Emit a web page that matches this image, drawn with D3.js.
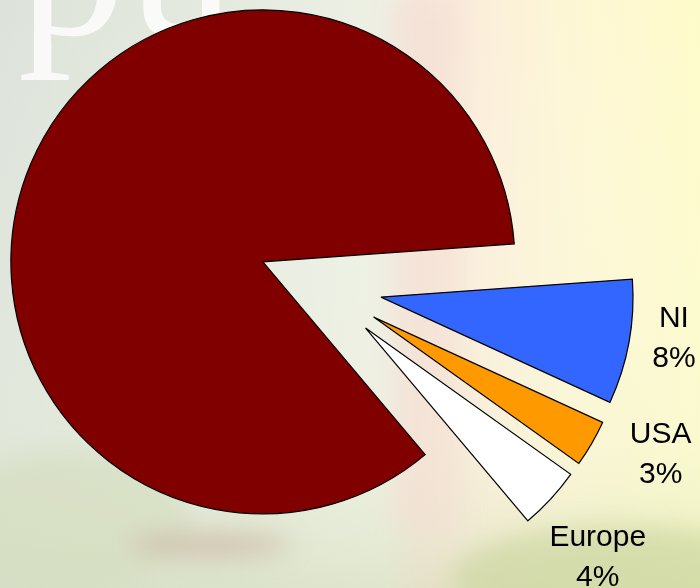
<!DOCTYPE html>
<html lang="en">
    <head>
        <meta charset="utf-8">
        <title>Share by region</title>
        <script type="text/javascript" src="https://d3js.org/d3.v7.min.js"></script>
        <style type="text/css">
            body{margin:0; padding:0; overflow:hidden;}
            #pie{width:700px; height:588px;}
        </style>
    </head>
    <body>
        <div id="pie"></div>
        <script type="text/javascript">

        // chart data
        var categories = ["GB", "NI", "USA", "Europe"]
        var shares = [85, 8, 3, 4]
        var pctLabels = ["85%", "8%", "3%", "4%"]
        var showLabel = [false, true, true, true]
        var colors = ["#800000", "#3366FF", "#FF9900", "#FFFFFF"]

        var w = 700
        var h = 588
        var cx = 320, cy = 286
        var radius = 252
        var explode = 62
        var firstAngle = 139.9 * Math.PI / 180
        // label nudges from the outer middle of each slice
        var labelShift = {"NI": [45, -15], "USA": [69, 0], "Europe": [47, 47]}

        var svg = d3.select("#pie")
                    .append("svg")
                    .attr("width", w)
                    .attr("height", h)

        // faded photo background
        var defs = svg.append("defs")
        var bg = defs.append("linearGradient").attr("id", "bgH")
                     .attr("x1", "0").attr("x2", "1").attr("y1", "0").attr("y2", "0")
        bg.append("stop").attr("offset", "0").attr("stop-color", "#dde3da")
        bg.append("stop").attr("offset", "0.35").attr("stop-color", "#e6ebe0")
        bg.append("stop").attr("offset", "0.55").attr("stop-color", "#eef0e4")
        bg.append("stop").attr("offset", "0.6").attr("stop-color", "#f7e6dc")
        bg.append("stop").attr("offset", "0.68").attr("stop-color", "#fbeedb")
        bg.append("stop").attr("offset", "0.8").attr("stop-color", "#fdf6d6")
        bg.append("stop").attr("offset", "1").attr("stop-color", "#fefbca")

        var bgV = defs.append("linearGradient").attr("id", "bgV")
                      .attr("x1", "0").attr("x2", "0").attr("y1", "0").attr("y2", "1")
        bgV.append("stop").attr("offset", "0").attr("stop-color", "#ffffff").attr("stop-opacity", 0)
        bgV.append("stop").attr("offset", "0.75").attr("stop-color", "#eef4dc").attr("stop-opacity", 0.25)
        bgV.append("stop").attr("offset", "1").attr("stop-color", "#cfdab0").attr("stop-opacity", 0.45)

        defs.append("filter").attr("id", "blur")
            .append("feGaussianBlur").attr("stdDeviation", 12)

        svg.append("rect").attr("width", w).attr("height", h).attr("fill", "url(#bgH)")
        svg.append("rect").attr("width", w).attr("height", h).attr("fill", "url(#bgV)")

        var blobs = svg.append("g").attr("filter", "url(#blur)")
        blobs.append("ellipse").attr("cx", 70).attr("cy", 520).attr("rx", 120).attr("ry", 70)
             .attr("fill", "#d3dcbc").attr("opacity", 0.6)
        blobs.append("ellipse").attr("cx", 620).attr("cy", 580).attr("rx", 170).attr("ry", 55)
             .attr("fill", "#c7d29a").attr("opacity", 0.6)
        blobs.append("ellipse").attr("cx", 210).attr("cy", 545).attr("rx", 80).attr("ry", 12)
             .attr("fill", "#c4a090").attr("opacity", 0.5)
        blobs.append("rect").attr("x", 390).attr("y", 0).attr("width", 70).attr("height", 530)
             .attr("fill", "#f3ddd2").attr("opacity", 0.5)

        var deco = svg.append("text")
           .attr("y", 34)
           .attr("font-family", "'Liberation Serif', 'DejaVu Serif', serif")
           .attr("font-size", "215px")
           .attr("fill", "#ffffff")
           .attr("opacity", 0.8)
        deco.append("tspan").attr("x", 18).text("p")
        deco.append("tspan").attr("x", 128).text("u")

        // pie
        var pie = d3.pie()
                    .sort(null)
                    .value(function(d){ return d })
                    .startAngle(firstAngle)
                    .endAngle(firstAngle + 2 * Math.PI)

        var arcs = pie(shares)

        var arc = d3.arc().innerRadius(0).outerRadius(radius)
        var rimArc = d3.arc().innerRadius(radius).outerRadius(radius)

        function offset(d){
            var m = (d.startAngle + d.endAngle) / 2
            return [Math.sin(m) * explode, -Math.cos(m) * explode]
        }

        var slices = svg.append("g")
                        .attr("transform", "translate(" + cx + "," + cy + ")")

        slices.selectAll("path")
              .data(arcs)
              .enter()
              .append("path")
              .attr("d", arc)
              .attr("transform", function(d){
                  var o = offset(d)
                  return "translate(" + o[0] + "," + o[1] + ")"
              })
              .attr("fill", function(d, i){ return colors[i] })
              .attr("stroke", "#000")
              .attr("stroke-width", 1.2)
              .attr("stroke-linejoin", "miter")

        var labels = slices.selectAll("text")
              .data(arcs.filter(function(d, i){ return showLabel[i] }))
              .enter()
              .append("text")
              .attr("font-family", "'Liberation Sans', Arial, sans-serif")
              .attr("font-size", "30px")
              .attr("fill", "#000")
              .attr("text-anchor", "middle")
              .attr("transform", function(d){
                  var o = offset(d)
                  var c = rimArc.centroid(d)
                  var s = labelShift[categories[d.index]]
                  return "translate(" + (c[0] + o[0] + s[0]) + "," + (c[1] + o[1] + s[1]) + ")"
              })

        labels.append("tspan")
              .attr("x", 0)
              .attr("y", 0)
              .text(function(d){ return categories[d.index] })
        labels.append("tspan")
              .attr("x", 0)
              .attr("y", 40)
              .text(function(d){ return pctLabels[d.index] })

        </script>
    </body>
</html>
